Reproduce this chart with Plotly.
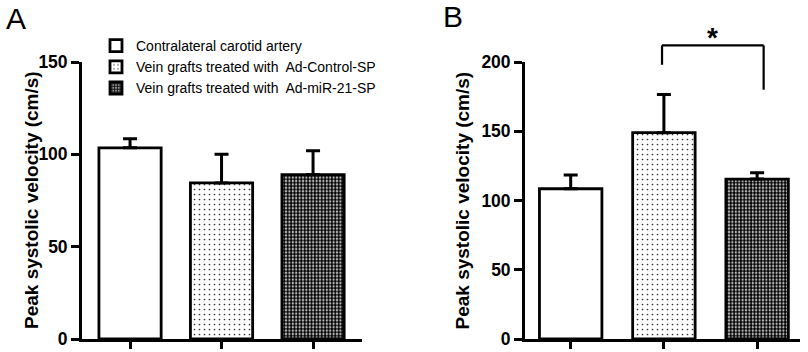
import plotly.graph_objects as go

# ---------------- data ----------------
categories = ["Contralateral carotid artery",
              "Vein grafts treated with\u00a0 Ad-Control-SP",
              "Vein grafts treated with\u00a0 Ad-miR-21-SP"]
panel_a_means = [103.5, 84.5, 89.0]
panel_a_sem = [5.0, 15.5, 13.0]
panel_b_means = [108.5, 149.0, 115.5]
panel_b_sem = [10.0, 27.5, 4.5]
panel_a_ticks = [0, 50, 100, 150]
panel_b_ticks = [0, 50, 100, 150, 200]
y_title = "Peak systolic velocity (cm/s)"
bracket_level = 212
bracket_left_end = 198
bracket_right_end = 180
sig_label = "*"
sig_label_level = 218

# ---------------- styles ----------------
patterns = [
    dict(shape="", fillmode="replace"),
    dict(shape=".", size=5, solidity=0.09, fgcolor="#333333", bgcolor="white", fillmode="replace"),
    dict(shape=".", size=3.4, solidity=0.7, fgcolor="#000000", bgcolor="white", fillmode="replace"),
]
FONT = "Liberation Sans, Arial, sans-serif"

ya_dom = [13 / 352, 290 / 352]
xa_dom = [82 / 808, 362 / 808]
xb_dom = [525 / 808, 800 / 808]
ya_range = [0, 150]
yb_range = [0, 200]

fig = go.Figure()
for i, cat in enumerate(categories):
    fig.add_trace(go.Bar(
        x=[cat], y=[panel_a_means[i]], name=cat, xaxis="x", yaxis="y",
        width=0.68, marker=dict(color="white", line=dict(color="black", width=2.8), pattern=patterns[i]),
        error_y=dict(type="data", symmetric=False, array=[panel_a_sem[i]], arrayminus=[0],
                     color="black", thickness=3, width=7),
        showlegend=True))
for i, cat in enumerate(categories):
    fig.add_trace(go.Bar(
        x=[cat], y=[panel_b_means[i]], name=cat, xaxis="x2", yaxis="y2",
        width=0.67, marker=dict(color="white", line=dict(color="black", width=2.8), pattern=patterns[i]),
        error_y=dict(type="data", symmetric=False, array=[panel_b_sem[i]], arrayminus=[0],
                     color="black", thickness=3, width=7),
        showlegend=False))

axis_common = dict(showline=True, linecolor="black", linewidth=2.8, ticks="outside",
                   tickcolor="black", tickwidth=2.5, showgrid=False, zeroline=False,
                   automargin=False)

fig.update_layout(
    width=808, height=352, margin=dict(l=0, r=0, t=0, b=0, autoexpand=False),
    paper_bgcolor="white", plot_bgcolor="white", barmode="overlay",
    font=dict(family=FONT, color="black"),
    xaxis=dict(domain=xa_dom, anchor="y", type="category", range=[-0.525, 2.535],
               showticklabels=False, ticklen=7, **axis_common),
    yaxis=dict(domain=ya_dom, anchor="x", range=ya_range, tickvals=panel_a_ticks, ticklen=8,
               tickfont=dict(size=17.5, weight="bold", family=FONT), **axis_common),
    xaxis2=dict(domain=xb_dom, anchor="y2", type="category", range=[-0.49, 2.46],
                showticklabels=False, ticklen=7, **axis_common),
    yaxis2=dict(domain=ya_dom, anchor="x2", range=yb_range, tickvals=panel_b_ticks, ticklen=8,
                tickfont=dict(size=17.5, weight="bold", family=FONT), **axis_common),
    legend=dict(x=96 / 808, y=1 - 30 / 352, xanchor="left", yanchor="top",
                bgcolor="rgba(0,0,0,0)", font=dict(size=14, family=FONT),
                tracegroupgap=0, itemwidth=30),
)

def to_paper(v, rng, dom):
    return dom[0] + (v - rng[0]) / (rng[1] - rng[0]) * (dom[1] - dom[0])

# significance bracket in panel B
yb_top = to_paper(bracket_level, yb_range, ya_dom)
yb_l = to_paper(bracket_left_end, yb_range, ya_dom)
yb_r = to_paper(bracket_right_end, yb_range, ya_dom)
bx0, bx1 = 0.98, 2.07
for (x0, y0, x1, y1) in [(bx0, yb_l, bx0, yb_top), (bx0, yb_top, bx1, yb_top), (bx1, yb_top, bx1, yb_r)]:
    fig.add_shape(type="line", xref="x2", yref="paper", x0=x0, x1=x1, y0=y0, y1=y1,
                  line=dict(color="black", width=2.2))
fig.add_annotation(text=sig_label, xref="x2", yref="paper", x=1.52,
                   y=to_paper(sig_label_level, yb_range, ya_dom),
                   yanchor="middle", showarrow=False, font=dict(size=28, family=FONT, weight="bold"))

# y titles
mid = (ya_dom[0] + ya_dom[1]) / 2
fig.add_annotation(text=y_title, xref="paper", yref="paper", x=19 / 808, y=mid, textangle=-90,
                   showarrow=False, font=dict(size=19, weight="bold", family=FONT))
fig.add_annotation(text=y_title, xref="paper", yref="paper", x=462 / 808, y=mid, textangle=-90,
                   showarrow=False, font=dict(size=19, weight="bold", family=FONT))
# panel labels
fig.add_annotation(text="A", xref="paper", yref="paper", x=4 / 808, y=1 - 0 / 352,
                   xanchor="left", yanchor="top", showarrow=False, font=dict(size=30, family=FONT))
fig.add_annotation(text="B", xref="paper", yref="paper", x=441 / 808, y=1 + 2 / 352,
                   xanchor="left", yanchor="top", showarrow=False, font=dict(size=30, family=FONT))

fig.write_html("out.html", config={"displayModeBar": False},
               post_script="document.body.style.margin='0';document.body.style.padding='0';")
